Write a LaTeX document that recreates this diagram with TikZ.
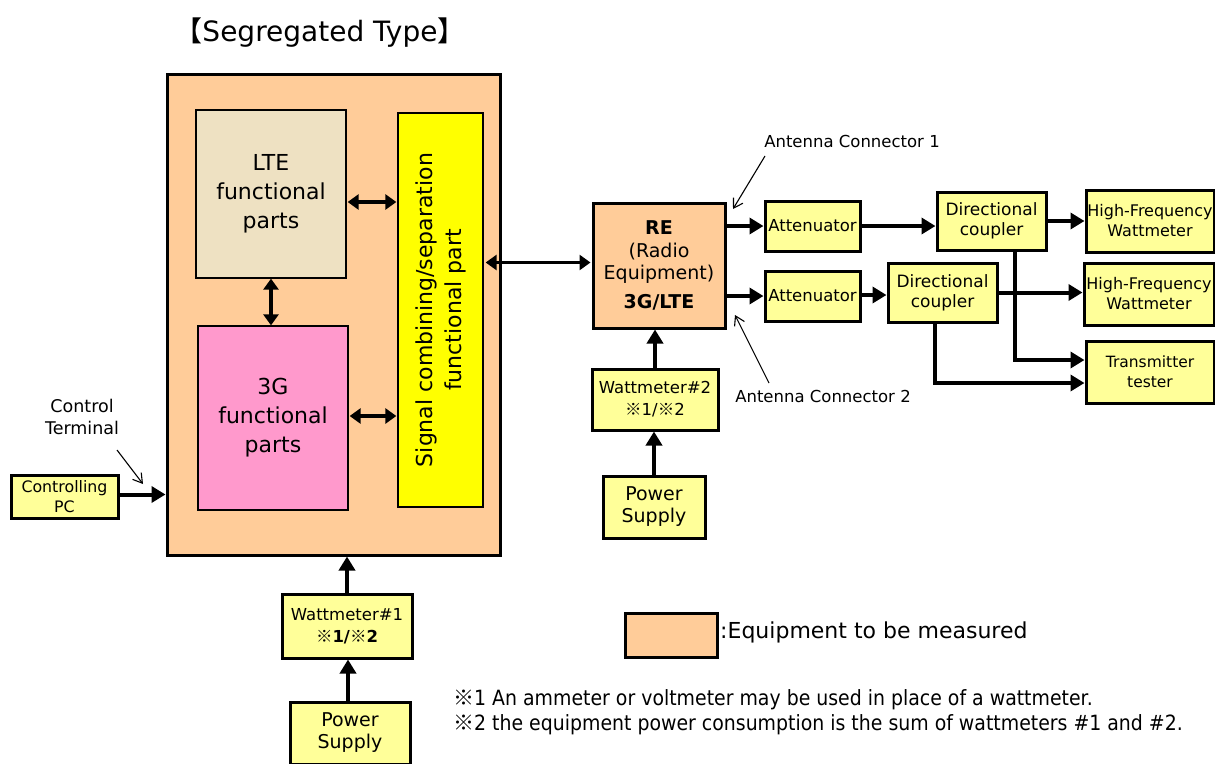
\documentclass[tikz,border=0pt]{standalone}
\usepackage{fontspec}
\setmainfont{DejaVu Sans}
\newfontfamily\cjk{Noto Sans CJK JP}
\newfontfamily\narrowfont[FakeStretch=0.9]{DejaVu Sans}
\newcommand\km{{\cjk ※}}
\usetikzlibrary{arrows.meta,calc}
\definecolor{peach}{HTML}{FFCC99}
\definecolor{beige}{HTML}{EEE1C2}
\definecolor{pinkf}{HTML}{FF99CC}
\definecolor{lyel}{HTML}{FFFF99}
\definecolor{byel}{HTML}{FFFF00}
\tikzset{
  base/.style={rectangle, inner sep=0pt, align=center, text=black},
  eqbox/.style={base, draw, fill=peach, line width=3pt},
  ybox/.style={base, draw, fill=lyel, line width=3pt},
  inbox/.style={base, draw, line width=1.3pt},
  fat/.style={line width=4pt, -{Triangle[length=14pt,width=16pt]}},
  fatboth/.style={line width=3.5pt, {Triangle[length=11pt,width=15pt]}-{Triangle[length=11pt,width=15pt]}},
  thinarr/.style={line width=1.1pt, -{Straight Barb[length=9pt,width=11pt]}},
  lbl/.style={inner sep=0pt, align=center},
}
\newcommand\bx[7]{\node[#2, minimum width={(#5-#3)*1pt}, minimum height={(#6-#4)*1pt}] (#1) at ({(#3+#5)/2},{(#4+#6)/2}) {#7};}
\begin{document}
\begin{tikzpicture}[x=1pt,y=-1pt]
\useasboundingbox (0,0) rectangle (1215,763);
% title
\node[lbl, font=\fontsize{28}{32}\selectfont] (title) at (320,33) {{\cjk 【}Segregated Type{\cjk 】}};
% equipment box
\bx{outer}{eqbox}{167}{74}{500}{555}{}
\bx{lte}{inbox, fill=beige, font=\fontsize{22}{29}\selectfont}{196}{110}{346}{278}{LTE\\functional\\parts}
\bx{g3}{inbox, fill=pinkf, font=\fontsize{22}{29}\selectfont}{198}{326}{348}{510}{3G\\functional\\parts}
\bx{sig}{inbox, fill=byel}{398}{113}{483}{507}{}
\node[lbl, rotate=90, font=\fontsize{22}{29}\selectfont] (sigtxt) at (sig.center) {Signal combining/separation\\functional part};
\draw[fatboth] (lte.south) -- (lte.south |- g3.north);
\draw[fatboth] ($(lte.east)+(1,8)$) -- ($(lte.east -| sig.west)+(-1,8)$);
\draw[fatboth] ($(g3.east)+(1,-2)$) -- ($(g3.east -| sig.west)+(-1,-2)$);
% RE
\bx{re}{eqbox, font=\fontsize{19}{22.5}\selectfont}{593}{203}{725}{328}{\textbf{RE}\\(Radio\\Equipment)\\[6pt]\textbf{3G/LTE}}
\draw[fatboth] ($(sig.east |- re.west)+(2,-3)$) -- ($(re.west)+(-1,-3)$);
% attenuators etc.
\bx{att1}{ybox, font=\fontsize{16.5}{20}\selectfont}{765}{201}{860}{251}{Attenuator}
\bx{att2}{ybox, font=\fontsize{16.5}{20}\selectfont}{765}{271}{860}{321}{Attenuator}
\bx{dc1}{ybox, font=\fontsize{17}{20}\selectfont}{937}{192}{1046}{250}{Directional\\coupler}
\bx{dc2}{ybox, font=\fontsize{17}{20}\selectfont}{888}{263}{997}{322}{Directional\\coupler}
\bx{hf1}{ybox, font=\fontsize{16}{20}\selectfont}{1086}{190}{1214}{252}{High-Frequency\\Wattmeter}
\bx{hf2}{ybox, font=\fontsize{16}{20}\selectfont}{1084}{263}{1214}{325}{High-Frequency\\Wattmeter}
\bx{tt}{ybox, font=\fontsize{15.5}{20}\selectfont}{1086}{341}{1214}{403}{Transmitter\\tester}
\draw[fat] (att1.west -| re.east) -- (att1.west);
\draw[fat] (att2.west -| re.east) -- (att2.west);
\draw[fat] (att1.east) -- (att1.east -| dc1.west);
\draw[fat] ($(att2.east)+(0,-1)$) -- ($(att2.east -| dc2.west)+(0,-1)$);
\draw[fat] (dc1.east) -- (dc1.east -| hf1.west);
\draw[fat] (dc2.east) -- (dc2.east -| hf2.west);
\draw[fat] ($(dc1.south)+(23.5,0)$) |- ($(tt.west)+(0,-12)$);
\draw[fat] ($(dc2.south)+(-7.5,0)$) |- ($(tt.west)+(0,11)$);
% antenna labels
\node[lbl, font=\fontsize{16.5}{20}\selectfont] (ac1) at (852,141) {Antenna Connector 1};
\node[lbl, font=\fontsize{16.5}{20}\selectfont] (ac2) at (823,396) {Antenna Connector 2};
\coordinate (ac1s) at (765,156);
\coordinate (ac1e) at (733,209);
\coordinate (ac2s) at (769,383);
\coordinate (ac2e) at (735,315);
\draw[thinarr] (ac1s) -- (ac1e);
\draw[thinarr] (ac2s) -- (ac2e);
% wattmeter 2 / power supply 2
\bx{wm2}{ybox, font=\fontsize{16.5}{22}\selectfont}{592}{369}{718}{430}{Wattmeter\#2\\\km 1/\km 2}
\bx{ps2}{ybox, font=\fontsize{19}{22}\selectfont}{603}{476}{705}{538}{Power\\Supply}
\draw[fat] (wm2.north) -- (wm2.north |- re.south);
\draw[fat] (ps2.north) -- (ps2.north |- wm2.south);
% controlling PC
\bx{pc}{ybox, font=\fontsize{15.8}{20}\selectfont}{11}{475}{118}{518}{Controlling\\PC}
\draw[fat] ($(pc.east)+(0,-2)$) -- ($(pc.east -| outer.west)+(0,-2)$);
\node[lbl, font=\fontsize{17.5}{22}\selectfont] (ct) at (82,417) {Control\\Terminal};
\coordinate (cts) at (117,450);
\coordinate (cte) at (143,484);
\draw[thinarr] (cts) -- (cte);
% wattmeter 1 / power supply 1
\bx{wm1}{ybox, font=\fontsize{16.5}{22}\selectfont}{282}{594}{412}{658}{Wattmeter\#1\\\textbf{\km 1/\km 2}}
\bx{ps1}{ybox, font=\fontsize{19}{22}\selectfont}{290}{702}{410}{764}{Power\\Supply}
\draw[fat] (wm1.north) -- (wm1.north |- outer.south);
\draw[fat] ($(ps1.north)+(-2,0)$) -- ($(ps1.north |- wm1.south)+(-2,0)$);
% legend
\bx{leg}{eqbox}{625}{613}{717}{657}{}
\node[lbl, anchor=west, font=\fontsize{22}{26}\selectfont] (legt) at (720,632) {:Equipment to be measured};
\node[lbl, anchor=west, align=left, font=\narrowfont\fontsize{21}{25}\selectfont] (notes) at (453,712) {\km 1 An ammeter or voltmeter may be used in place of a wattmeter.\\\km 2 the equipment power consumption is the sum of wattmeters \#1 and \#2.};
\end{tikzpicture}
\end{document}
